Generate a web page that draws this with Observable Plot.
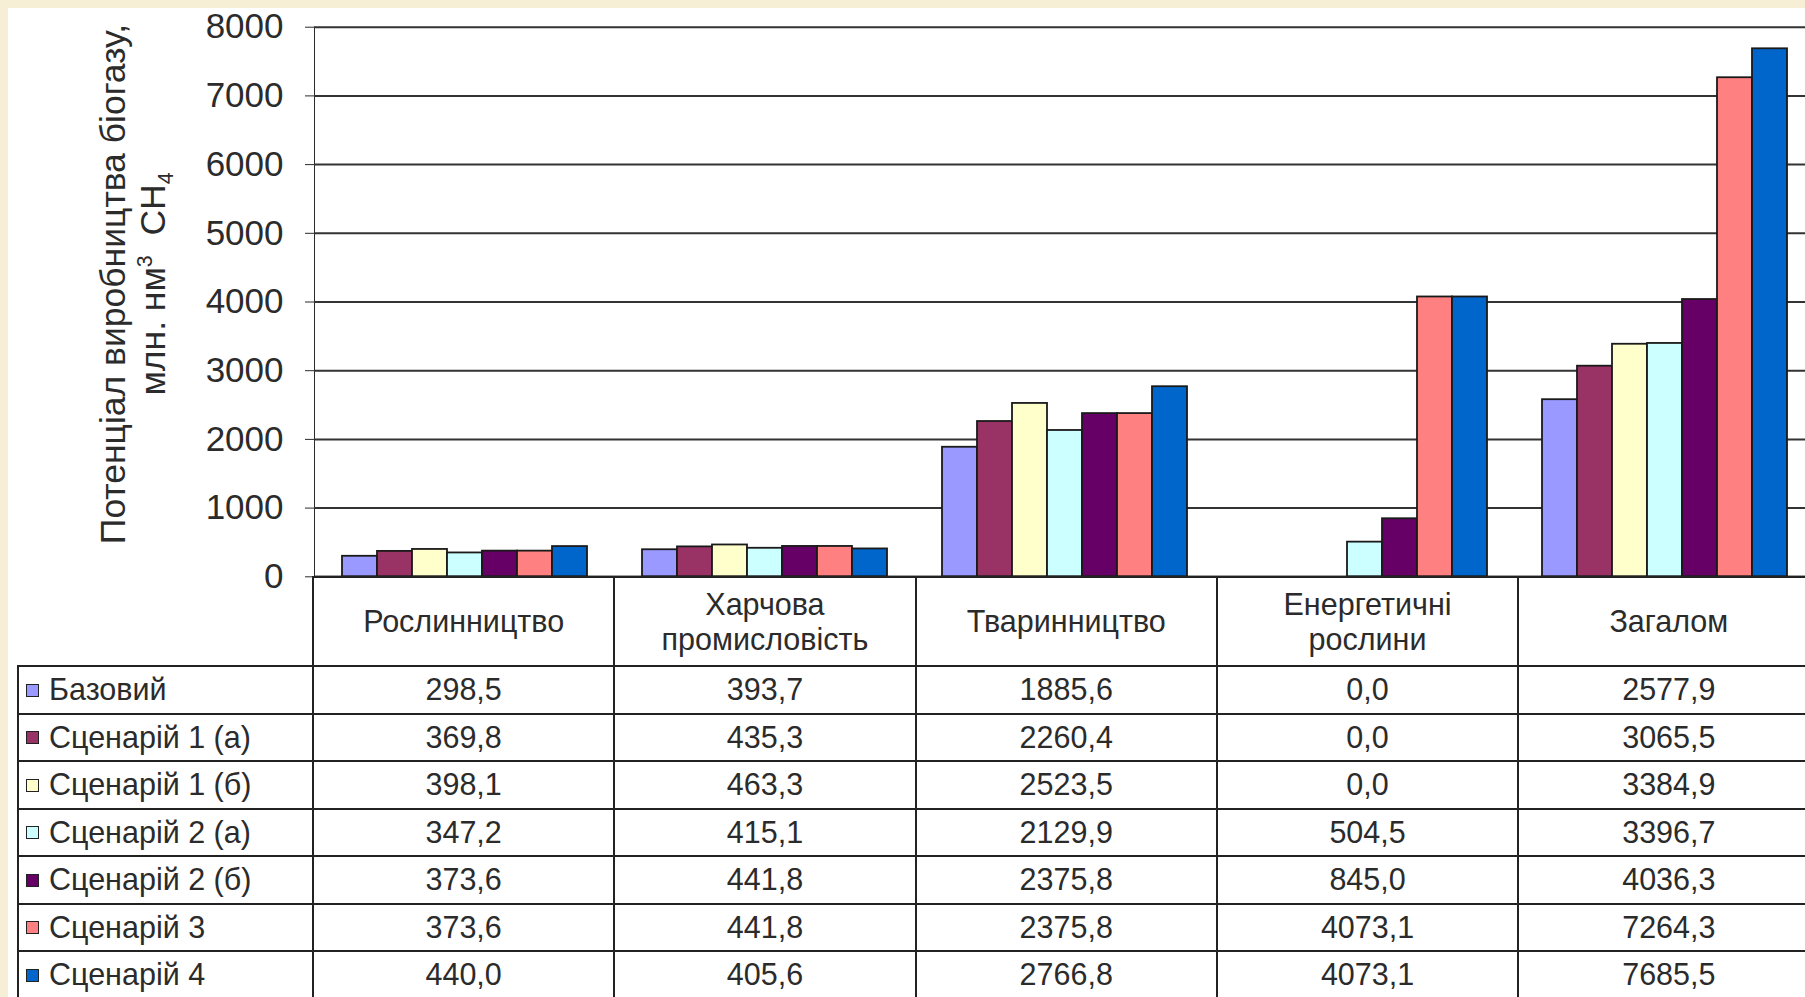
<!DOCTYPE html>
<html>
<head>
<meta charset="utf-8">
<script src="https://cdn.jsdelivr.net/npm/d3@7"></script>
<script src="https://cdn.jsdelivr.net/npm/@observablehq/plot@0.6"></script>
<style>
  html, body { margin: 0; padding: 0; background: #f6efd5; overflow: hidden; }
  #wrap { position: relative; width: 1805px; height: 997px; overflow: hidden; background: #f6efd5;
          font-family: "Liberation Sans", Arial, sans-serif; color: #2b2b2b; }
  #panel { position: absolute; left: 8px; top: 8px; width: 1797px; height: 989px; background: #fff; }
  #chart { position: absolute; left: 0; top: 0; }
  #ytitle { position: absolute; left: 125px; top: 276px; transform: translate(-50%, -50%) rotate(-90deg);
            white-space: nowrap; text-align: center; font-size: 35.5px; line-height: 40px; }
  #ytitle sup, #ytitle sub { font-size: 60%; line-height: 0; }
  #dt { position: absolute; left: 9px; top: 568px; width: 1801.5px; border-collapse: collapse; table-layout: fixed;
        font-size: 30.5px; color: #2b2b2b; }
  #dt td, #dt th { border: 2px solid #222; padding: 0; font-weight: normal; text-align: center; vertical-align: middle; overflow: hidden; white-space: nowrap; }
  #dt th.corner { border-top: none; border-left: none; }
  #dt tr.head { height: 89px; }
  #dt tr.head th.cat { line-height: 35px; }
  #dt tbody tr { height: 47.5px; }
  #dt th.key { text-align: left; padding-left: 7px; }
  #dt .sw { display: inline-block; width: 11px; height: 11px; border: 1.5px solid #222; margin-right: 10px; vertical-align: middle; position: relative; top: -2px; }
</style>
</head>
<body>
<div id="wrap">
  <div id="panel">
    <div id="chart"></div>
    <div id="ytitle">Потенціал виробництва біогазу,<br>млн. нм<sup>3</sup>&nbsp; CH<sub>4</sub></div>
  </div>
</div>
<script>
// ---- data ----
const categories = ["Рослинництво", "Харчова промисловість", "Тваринництво", "Енергетичні рослини", "Загалом"];
const categoryLabels = ["Рослинництво", "Харчова\nпромисловість", "Тваринництво", "Енергетичні\nрослини", "Загалом"];
const series = ["Базовий", "Сценарій 1 (а)", "Сценарій 1 (б)", "Сценарій 2 (а)", "Сценарій 2 (б)", "Сценарій 3", "Сценарій 4"];
const colors = ["#9999ff", "#993366", "#ffffcc", "#ccffff", "#660066", "#ff8080", "#0066cc"];
const baseValues = [298.5, 393.7, 1885.6, 0.0, 2577.9];
const s1aValues  = [369.8, 435.3, 2260.4, 0.0, 3065.5];
const s1bValues  = [398.1, 463.3, 2523.5, 0.0, 3384.9];
const s2aValues  = [347.2, 415.1, 2129.9, 504.5, 3396.7];
const s2bValues  = [373.6, 441.8, 2375.8, 845.0, 4036.3];
const s3Values   = [373.6, 441.8, 2375.8, 4073.1, 7264.3];
const s4Values   = [440.0, 405.6, 2766.8, 4073.1, 7685.5];
const yDomain = [0, 8000];

const values = [baseValues, s1aValues, s1bValues, s2aValues, s2bValues, s3Values, s4Values];
const data = series.flatMap((s, j) => categories.map((c, i) => ({category: c, series: s, value: values[j][i]})));
const fmt = d3.formatLocale({decimal: ",", thousands: "", grouping: [3], currency: ["", ""]}).format(".1f");

const chart = Plot.plot({
  width: 1808,
  height: 572,
  marginLeft: 304,
  marginRight: 0.5,
  marginTop: 18.7,
  marginBottom: 3.7,
  style: {background: "transparent", fontFamily: "'Liberation Sans', Arial, sans-serif", fontSize: "35px", color: "#2b2b2b", maxWidth: "none", overflow: "visible"},
  fx: {domain: categories, padding: 0, axis: null, label: null},
  x: {domain: series, paddingInner: 0, paddingOuter: 0.75, axis: null},
  y: {domain: yDomain, ticks: 8, tickFormat: "d", tickSize: 9, tickPadding: 22, line: true, label: null},
  color: {domain: series, range: colors},
  marks: [
    Plot.gridY({ticks: 8, stroke: "#333", strokeOpacity: 1, strokeWidth: 2}),
    Plot.barY(data, {fx: "category", x: "series", y: "value", fill: "series", stroke: "#1a1a1a", strokeWidth: 1.8}),
    Plot.ruleY([0], {stroke: "#222", strokeWidth: 2})
  ]
});
document.getElementById("chart").appendChild(chart);

// ---- data table ----
const table = d3.select("#panel").append("table").attr("id", "dt");
const cg = table.append("colgroup");
cg.append("col").style("width", "295px");
categories.forEach(() => cg.append("col").style("width", "301.3px"));
const head = table.append("thead").append("tr").attr("class", "head");
head.append("th").attr("class", "corner");
categoryLabels.forEach(l => head.append("th").attr("class", "cat").html(l.replace("\n", "<br>")));
const tb = table.append("tbody");
series.forEach((s, j) => {
  const tr = tb.append("tr");
  const th = tr.append("th").attr("class", "key");
  th.append("span").attr("class", "sw").style("background", colors[j]);
  th.append("span").text(s);
  values[j].forEach(v => tr.append("td").text(fmt(v)));
});
</script>
</body>
</html>
